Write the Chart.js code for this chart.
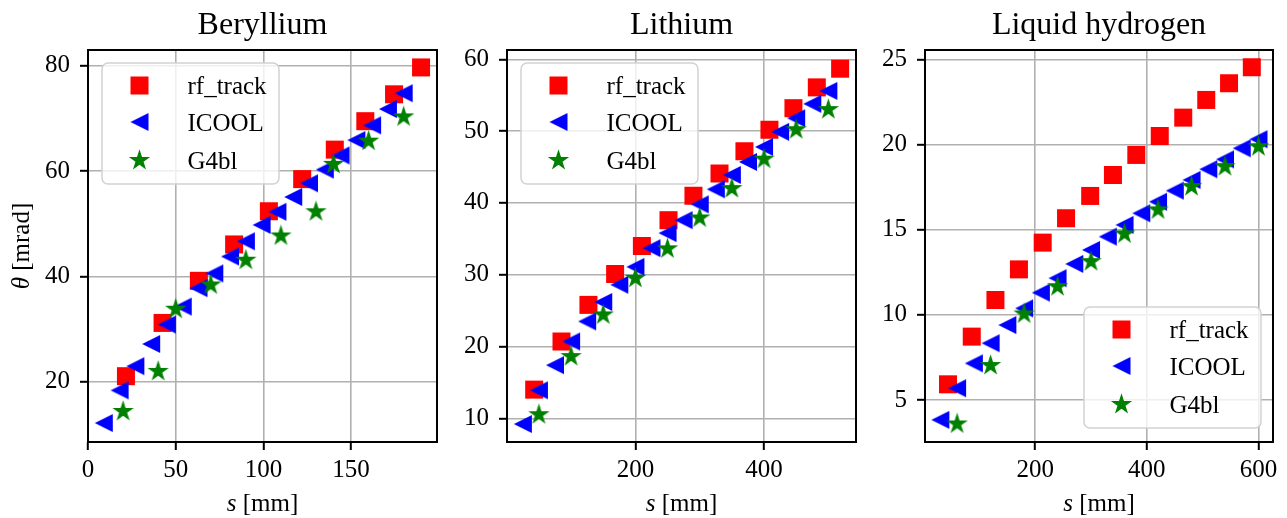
<!DOCTYPE html>
<html>
<head>
<meta charset="utf-8">
<script src="https://cdn.jsdelivr.net/npm/chart.js@4.4.0/dist/chart.umd.min.js"></script>
<style>
  html, body { margin: 0; padding: 0; background: #fff; }
  #wrap { position: relative; width: 1287px; height: 518px; overflow: hidden; }
  #wrap canvas { position: absolute; top: 0; }
</style>
</head>
<body>
<div id="wrap">
  <canvas id="c1" width="462" height="518" style="left:0px"></canvas>
  <canvas id="c2" width="414" height="518" style="left:462px"></canvas>
  <canvas id="c3" width="411" height="518" style="left:876px"></canvas>
</div>
<script>
// ===== Dados =====
const seriesNames = ["rf_track", "ICOOL", "G4bl"];

// Beryllium
const beRfS = [21.6, 42.5, 63.2, 83.3, 103.1, 122.1, 140.7, 158.1, 174.5, 189.9];
const beRfTheta = [21.1, 31.2, 39.2, 46.1, 52.4, 58.5, 64.1, 69.5, 74.6, 79.7];
const beIcoolS = [9, 18, 27, 36, 45, 54, 63, 72, 81, 90, 99, 108, 117, 126, 135, 144, 153, 162, 171, 180];
const beIcoolTheta = [12.2, 18.4, 23.0, 27.2, 30.9, 34.3, 37.8, 40.6, 43.8, 46.7, 49.8, 52.3, 55.1, 57.7, 60.3, 63.0, 65.9, 68.7, 71.8, 74.8];
const beG4S = [20, 40, 50, 70, 90, 110, 130, 140, 160, 180];
const beG4Theta = [14.4, 22.0, 33.8, 38.4, 43.1, 47.7, 52.3, 61.3, 65.7, 70.3];

// Lithium
const liRfS = [42.6, 85.1, 127.0, 168.5, 210.0, 251.4, 290.2, 330.7, 369.5, 408.4, 445.7, 482.0, 518.3];
const liRfTheta = [14.0, 20.7, 25.8, 30.1, 34.0, 37.6, 41.0, 44.1, 47.2, 50.2, 53.2, 56.1, 58.7];
const liIcoolS = [25, 50, 75, 100, 125, 150, 175, 200, 225, 250, 275, 300, 325, 350, 375, 400, 425, 450, 475, 500];
const liIcoolTheta = [9.2, 13.9, 17.4, 20.7, 23.5, 26.2, 28.6, 31.1, 33.7, 35.8, 37.6, 39.8, 41.9, 43.9, 45.7, 47.8, 49.9, 51.8, 53.8, 55.6];
const liG4S = [50, 100, 150, 200, 250, 300, 350, 400, 450, 500];
const liG4Theta = [10.5, 18.6, 24.4, 29.5, 33.6, 37.9, 42.0, 46.1, 50.2, 53.0];

// Liquid hydrogen
const lhRfS = [43.6, 86.2, 128.7, 170.7, 213.3, 255.2, 298.4, 339.2, 381.1, 423.0, 465.1, 506.4, 547.2, 588.0];
const lhRfTheta = [5.92, 8.72, 10.87, 12.67, 14.24, 15.67, 16.98, 18.21, 19.39, 20.50, 21.58, 22.62, 23.60, 24.54];
const lhIcoolS = [30, 60, 90, 120, 150, 180, 210, 240, 270, 300, 330, 360, 390, 420, 450, 480, 510, 540, 570, 600];
const lhIcoolTheta = [3.83, 5.69, 7.15, 8.33, 9.40, 10.38, 11.30, 12.15, 12.99, 13.81, 14.59, 15.28, 15.96, 16.64, 17.29, 17.92, 18.55, 19.13, 19.78, 20.31];
const lhG4S = [60, 120, 180, 240, 300, 360, 420, 480, 540, 600];
const lhG4Theta = [3.59, 7.02, 10.05, 11.65, 13.12, 14.75, 16.16, 17.53, 18.70, 19.87];

// Ticks
const beXTicks = [0, 50, 100, 150];
const beYTicks = [20, 40, 60, 80];
const liXTicks = [200, 400];
const liYTicks = [10, 20, 30, 40, 50, 60];
const lhXTicks = [200, 400, 600];
const lhYTicks = [5, 10, 15, 20, 25];

const FONT = '"Liberation Serif", "Times New Roman", serif';

// ===== Marcadores estilo matplotlib =====
function makeMarker(kind, color, size) {
  const n = Math.ceil(size) + 4;
  const c = document.createElement("canvas");
  c.width = n; c.height = n;
  const g = c.getContext("2d");
  const m = n / 2, h = size / 2;
  g.fillStyle = color;
  g.strokeStyle = color;
  g.lineJoin = "miter";
  g.beginPath();
  if (kind === "square") {
    g.rect(m - h, m - h, size, size);
  } else if (kind === "left") {
    g.moveTo(m - h, m);
    g.lineTo(m + h, m - h);
    g.lineTo(m + h, m + h);
    g.closePath();
  } else {
    for (let i = 0; i < 10; i++) {
      const r = i % 2 ? h * 0.382 : h;
      const a = -Math.PI / 2 + i * Math.PI / 5;
      const px = m + r * Math.cos(a), py = m + r * Math.sin(a);
      if (i === 0) g.moveTo(px, py); else g.lineTo(px, py);
    }
    g.closePath();
    g.lineWidth = 1.2;
    g.stroke();
  }
  g.fill();
  return c;
}
const markers = [
  makeMarker("square", "#ff0000", 18),
  makeMarker("left", "#0000ff", 18),
  makeMarker("star", "#008000", 18.5)
];

// ===== Plugin: moldura, título, rótulos e legenda =====
function drawParts(ctx, parts, cx, y) {
  let total = 0;
  parts.forEach(p => { ctx.font = p[0] + "25px " + FONT; total += ctx.measureText(p[1]).width; });
  let x = cx - total / 2;
  ctx.textAlign = "left";
  parts.forEach(p => {
    ctx.font = p[0] + "25px " + FONT;
    ctx.fillText(p[1], x, y);
    x += ctx.measureText(p[1]).width;
  });
}

const mplDecor = {
  id: "mplDecor",
  afterDatasetsDraw(chart, args, opts) {
    const ctx = chart.ctx, a = chart.chartArea;
    ctx.save();
    ctx.strokeStyle = "#000";
    ctx.lineWidth = 2;
    ctx.strokeRect(a.left, a.top, a.right - a.left, a.bottom - a.top);

    // legenda
    const bw = 177, bh = 121;
    let bx, by;
    if (opts.legend === "tl") { bx = a.left + 14; by = a.top + 13; }
    else { bx = a.right - 12 - bw; by = a.bottom - 14 - bh; }
    ctx.beginPath();
    ctx.roundRect(bx, by, bw, bh, 6);
    ctx.fillStyle = "rgba(255,255,255,0.8)";
    ctx.fill();
    ctx.strokeStyle = "#d2d2d2";
    ctx.lineWidth = 1.5;
    ctx.stroke();
    const rows = [22.5, 59, 97.5];
    ctx.fillStyle = "#000";
    ctx.font = "25px " + FONT;
    ctx.textAlign = "left";
    ctx.textBaseline = "alphabetic";
    seriesNames.forEach((name, i) => {
      const mk = markers[i];
      ctx.drawImage(mk, bx + 37.5 - mk.width / 2, by + rows[i] - mk.height / 2);
      ctx.fillText(name, bx + 85.5, by + rows[i] + 8.5);
    });

    // título
    const cx = (a.left + a.right) / 2;
    ctx.font = "32px " + FONT;
    ctx.textAlign = "center";
    ctx.fillText(opts.title, cx, 34);

    // eixo x
    drawParts(ctx, [["italic ", "s"], ["", " [mm]"]], cx, 511);

    // eixo y
    if (opts.ylabel) {
      ctx.translate(29, (a.top + a.bottom) / 2);
      ctx.rotate(-Math.PI / 2);
      drawParts(ctx, [["italic ", "\u03b8"], ["", " [mrad]"]], 0, 0);
    }
    ctx.restore();
  }
};

function pts(s, t) { return s.map((x, i) => ({ x: x, y: t[i] })); }

function makeChart(id, cfg) {
  const ds = [
    { label: seriesNames[0], data: pts(cfg.rf[0], cfg.rf[1]), order: 3 },
    { label: seriesNames[1], data: pts(cfg.ic[0], cfg.ic[1]), order: 2 },
    { label: seriesNames[2], data: pts(cfg.g4[0], cfg.g4[1]), order: 1 }
  ].map((d, i) => Object.assign(d, {
    pointStyle: markers[i], pointRadius: 9, pointHoverRadius: 9, showLine: false
  }));

  const gridOpts = { color: "#b0b0b0", lineWidth: 1.6, tickColor: "#000", tickWidth: 2, tickLength: 8 };
  return new Chart(document.getElementById(id), {
    type: "scatter",
    data: { datasets: ds },
    options: {
      responsive: false,
      animation: false,
      events: [],
      layout: { padding: { left: 0, right: cfg.padRight, top: 50, bottom: 0 } },
      scales: {
        x: {
          type: "linear", min: cfg.xr[0], max: cfg.xr[1],
          grid: gridOpts, border: { display: false },
          ticks: { font: { family: FONT, size: 25 }, color: "#000", padding: 5, maxRotation: 0, autoSkip: false },
          afterBuildTicks: s => { s.ticks = cfg.xt.map(v => ({ value: v })); },
          afterFit: s => { s.height = 76; }
        },
        y: {
          type: "linear", min: cfg.yr[0], max: cfg.yr[1],
          grid: gridOpts, border: { display: false },
          ticks: { font: { family: FONT, size: 25 }, color: "#000", padding: 10, autoSkip: false },
          afterBuildTicks: s => { s.ticks = cfg.yt.map(v => ({ value: v })); },
          afterFit: s => { s.width = cfg.yw; }
        }
      },
      plugins: {
        legend: { display: false },
        title: { display: false },
        tooltip: { enabled: false },
        mplDecor: { title: cfg.title, legend: cfg.legend, ylabel: cfg.ylabel }
      }
    },
    plugins: [mplDecor]
  });
}

// ===== Inicialização =====
makeChart("c1", {
  title: "Beryllium", legend: "tl", ylabel: true, yw: 88, padRight: 25,
  rf: [beRfS, beRfTheta], ic: [beIcoolS, beIcoolTheta], g4: [beG4S, beG4Theta],
  xr: [0, 199], yr: [8.6, 83.0], xt: beXTicks, yt: beYTicks
});
makeChart("c2", {
  title: "Lithium", legend: "tl", ylabel: false, yw: 45, padRight: 20,
  rf: [liRfS, liRfTheta], ic: [liIcoolS, liIcoolTheta], g4: [liG4S, liG4Theta],
  xr: [0.4, 543], yr: [6.7, 61.3], xt: liXTicks, yt: liYTicks
});
makeChart("c3", {
  title: "Liquid hydrogen", legend: "br", ylabel: false, yw: 49, padRight: 14,
  rf: [lhRfS, lhRfTheta], ic: [lhIcoolS, lhIcoolTheta], g4: [lhG4S, lhG4Theta],
  xr: [2.5, 626], yr: [2.53, 25.55], xt: lhXTicks, yt: lhYTicks
});
</script>
</body>
</html>
